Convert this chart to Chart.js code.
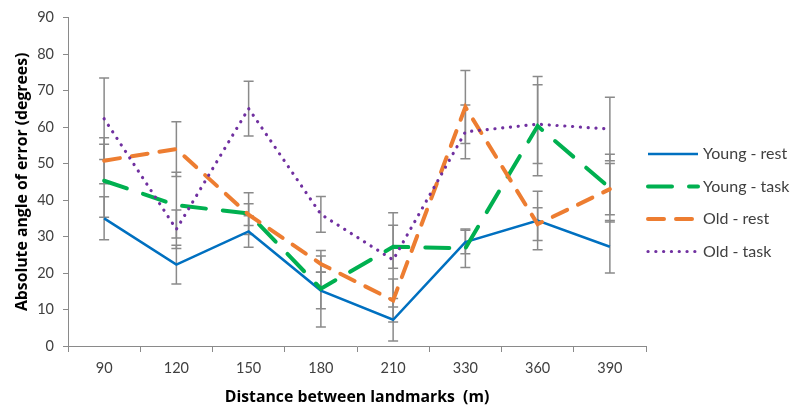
<!DOCTYPE html>
<html>
<head>
<meta charset="utf-8">
<script src="https://cdn.jsdelivr.net/npm/chart.js@4.4.1/dist/chart.umd.min.js"></script>
<style>
html,body{margin:0;padding:0;background:#fff;}
#wrap{width:800px;height:418px;}
</style>
</head>
<body>
<div id="wrap"><canvas id="c" width="800" height="418"></canvas></div>
<script>
const categories = ['90','120','150','180','210','330','360','390'];
const seriesNames = ['Young - rest','Young - task','Old - rest','Old - task'];
const youngRest = [35, 22.3, 31.4, 15.2, 7.2, 28.5, 34.4, 27.2];
const youngRestErr = [5.9, 5.3, 4.3, 5, 5.8, 3.2, 8, 7.2];
const youngTask = [45.3, 38.6, 36.3, 15.7, 27.2, 26.8, 60.3, 43.3];
const youngTaskErr = [10, 9, 5.7, 10.5, 5.9, 5.3, 13.6, 9.3];
const oldRest = [50.8, 54, 36, 22.5, 12.5, 65.5, 33.4, 43];
const oldRestErr = [6.3, 7.5, 3, 2.2, 5.9, 10, 4.5, 7];
const oldTask = [62.3, 32, 65.1, 36.1, 23.6, 58.7, 60.8, 59.5];
const oldTaskErr = [11.2, 5.3, 7.5, 4.9, 12.9, 7.4, 10.8, 8.7];
const yTicks = [0,10,20,30,40,50,60,70,80,90];

const FONT = 'Lato, "Open Sans", sans-serif';
const TFONT = '"Open Sans", Lato, sans-serif';
const TXT = '#404040';

const errorBars = {
  id: 'errorBars',
  beforeDatasetsDraw(chart) {
    const {ctx, scales: {x, y}} = chart;
    ctx.save();
    ctx.strokeStyle = '#8a8a8a';
    ctx.lineWidth = 1.5;
    chart.data.datasets.forEach(ds => {
      ds.data.forEach((v, i) => {
        const e = ds.errors[i];
        const px = x.getPixelForValue(i);
        const t = y.getPixelForValue(v + e);
        const b = y.getPixelForValue(v - e);
        ctx.beginPath();
        ctx.moveTo(px, t); ctx.lineTo(px, b);
        ctx.moveTo(px - 5, t); ctx.lineTo(px + 5, t);
        ctx.moveTo(px - 5, b); ctx.lineTo(px + 5, b);
        ctx.stroke();
      });
    });
    ctx.restore();
  }
};

const sideLegend = {
  id: 'sideLegend',
  afterDraw(chart) {
    const {ctx, chartArea} = chart;
    ctx.save();
    chart.data.datasets.forEach((ds, i) => {
      const y0 = 154 + i * 32.5;
      const x0 = chartArea.right + 2;
      ctx.beginPath();
      ctx.strokeStyle = ds.borderColor;
      ctx.lineWidth = ds.borderWidth;
      ctx.lineCap = ds.borderCapStyle || 'butt';
      ctx.setLineDash(ds.borderDash || []);
      ctx.moveTo(x0, y0); ctx.lineTo(x0 + 50, y0);
      ctx.stroke();
      ctx.setLineDash([]);
      ctx.fillStyle = TXT;
      ctx.font = '16px ' + FONT;
      ctx.textBaseline = 'middle';
      ctx.fillText(ds.label, x0 + 55, y0);
    });
    ctx.restore();
  }
};

new Chart(document.getElementById('c'), {
  type: 'line',
  data: {
    labels: categories,
    datasets: [
      {label: seriesNames[0], data: youngRest, errors: youngRestErr, borderColor: '#0070C0', borderWidth: 2.5, pointRadius: 0, order: 4, borderCapStyle: 'butt', tension: 0},
      {label: seriesNames[1], data: youngTask, errors: youngTaskErr, borderColor: '#00B050', borderWidth: 4, borderDash: [24, 17], borderCapStyle: 'round', pointRadius: 0, order: 3},
      {label: seriesNames[2], data: oldRest, errors: oldRestErr, borderColor: '#ED7D31', borderWidth: 4, borderDash: [16, 12], borderCapStyle: 'round', pointRadius: 0, order: 2},
      {label: seriesNames[3], data: oldTask, errors: oldTaskErr, borderColor: '#7030A0', borderWidth: 3.2, borderDash: [0.1, 7.7], borderCapStyle: 'round', pointRadius: 0, order: 1}
    ]
  },
  options: {
    responsive: false,
    animation: false,
    devicePixelRatio: 1,
    layout: {padding: {top: 15, right: 154, left: 0, bottom: 0}},
    plugins: {legend: {display: false}, tooltip: {enabled: false}},
    scales: {
      x: {
        offset: true,
        grid: {offset: true, drawOnChartArea: false, drawTicks: true, tickLength: 6, color: '#8a8a8a'},
        border: {color: '#8a8a8a', width: 1},
        ticks: {color: TXT, font: {family: FONT, size: 14.5}, padding: 8, maxRotation: 0},
        title: {display: true, text: 'Distance between landmarks  (m)', color: '#000', font: {family: TFONT, size: 15.8, weight: 'bold'}, padding: {top: 4, bottom: 11}},
        afterFit(s) { s.height = 72; }
      },
      y: {
        min: 0, max: 90,
        afterBuildTicks(s) { s.ticks = yTicks.map(v => ({value: v})); },
        grid: {drawOnChartArea: false, drawTicks: true, tickLength: 5, color: '#8a8a8a'},
        border: {color: '#8a8a8a', width: 1},
        ticks: {color: TXT, font: {family: FONT, size: 14.5}, padding: 9},
        title: {display: true, text: 'Absolute angle of error (degrees)', color: '#000', font: {family: TFONT, size: 15.8, weight: 'bold'}, padding: {top: 13, bottom: 0}},
        afterFit(s) { s.width = 68; }
      }
    }
  },
  plugins: [errorBars, sideLegend]
});
</script>
</body>
</html>
